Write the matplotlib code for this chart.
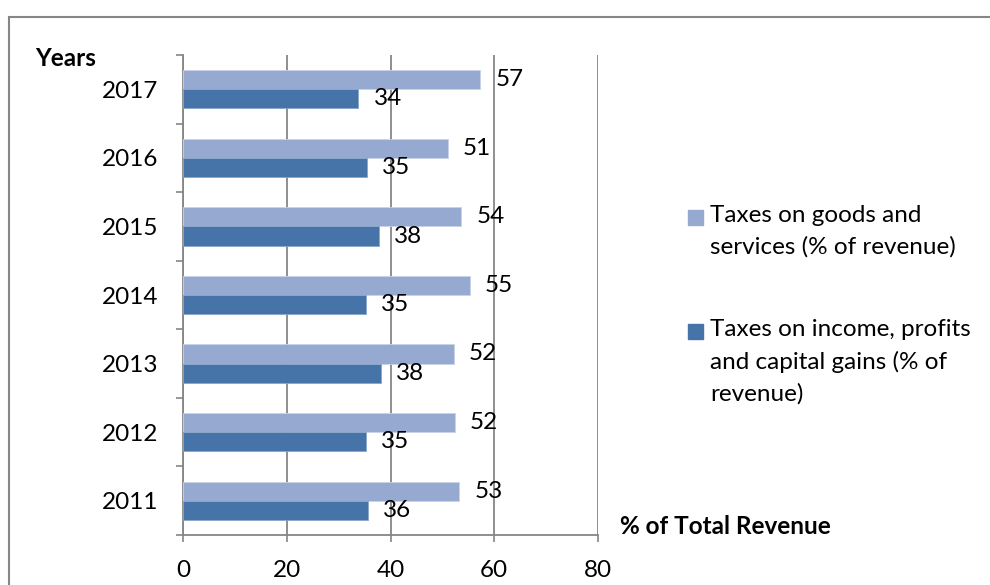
import matplotlib
matplotlib.use("Agg")
import matplotlib.pyplot as plt
from matplotlib.patches import Rectangle
import numpy as np

plt.rcParams['font.family'] = ['Lato', 'DejaVu Sans']

# ---- data ----
years = ["2011", "2012", "2013", "2014", "2015", "2016", "2017"]
goods = [53.2, 52.4, 52.2, 55.3, 53.6, 51.0, 57.3]
income = [35.6, 35.3, 38.1, 35.2, 37.7, 35.4, 33.8]
goods_name = "Taxes on goods and\nservices (% of revenue)"
income_name = "Taxes on income, profits\nand capital gains (% of\nrevenue)"
xticks = [0, 20, 40, 60, 80]

c_goods = "#95a9d1"
c_income = "#4674a9"
grey = "#868686"
fs = 17.5

fig = plt.figure(figsize=(9.9, 5.85), dpi=100)
ax = fig.add_axes([183/990, 1-535/585, 415/990, 480/585])

y = np.arange(len(years))
h = 0.28
bg = ax.barh(y + h/2, goods, height=h, color=c_goods, edgecolor="#c8d3e8", linewidth=0.6, zorder=3)
bi = ax.barh(y - h/2, income, height=h, color=c_income, edgecolor="#8aa6c8", linewidth=0.6, zorder=3)

for bars, vals in ((bg, goods), (bi, income)):
    for b, v in zip(bars, vals):
        ax.annotate("%.0f" % v, xy=(v, b.get_y() + b.get_height()/2),
                    xytext=(11, 0), textcoords="offset points",
                    ha="left", va="center", fontsize=fs, color="black", zorder=4)

ax.set_xlim(0, 80)
ax.set_ylim(-0.5, len(years) - 0.5)
ax.set_xticks(xticks)
ax.set_xticklabels([str(t) for t in xticks], fontsize=fs)
ax.set_yticks(y)
ax.set_yticklabels(years, fontsize=fs)
ax.tick_params(axis="y", length=0, pad=17.5)
ax.set_yticks(np.arange(-0.5, len(years)), minor=True)
ax.tick_params(axis="y", which="minor", length=5, color=grey, width=1.2)
ax.tick_params(axis="x", length=5, color=grey, width=1.2, pad=13)

ax.grid(axis="x", color=grey, linewidth=1.3, zorder=0)
for s in ("top", "right"):
    ax.spines[s].set_visible(False)
for s in ("left", "bottom"):
    ax.spines[s].set_color(grey)
    ax.spines[s].set_linewidth(1.3)

# axis captions
fig.text(35/990, 1-58/585, "Years", fontsize=fs, fontweight="bold", va="center", ha="left")
fig.text(620/990, 1-527/585, "% of Total Revenue", fontsize=fs, fontweight="bold", va="center", ha="left")

# legend drawn by hand
for name, col, ytop in ((goods_name, c_goods, 205), (income_name, c_income, 319)):
    fig.patches.append(Rectangle((688/990, 1-(ytop+20)/585), 15/990, 15/585,
                                 transform=fig.transFigure, color=col, figure=fig))
    fig.text(710/990, 1-ytop/585, name, fontsize=fs, va="top", ha="left", linespacing=1.58)

# chart frame
fig.patches.append(Rectangle((9/990, -0.1), 1.1, 1-17/585 + 0.1, transform=fig.transFigure,
                             fill=False, edgecolor=grey, linewidth=1.5, figure=fig))

fig.savefig("out.png", dpi=100)
